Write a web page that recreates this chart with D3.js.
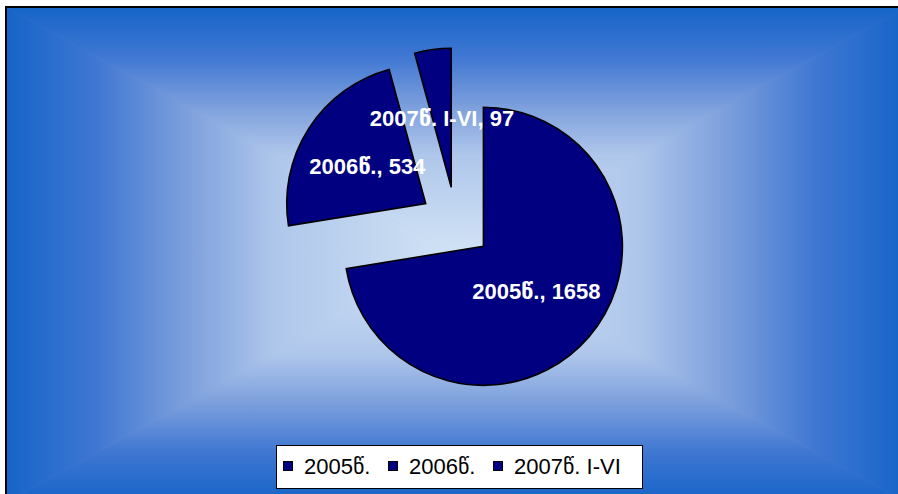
<!DOCTYPE html>
<html>
<head>
<meta charset="utf-8">
<script src="https://cdn.jsdelivr.net/npm/d3@7"></script>
<style>
  html, body { margin: 0; padding: 0; background: #ffffff; }
  svg { display: block; }
</style>
</head>
<body>
<svg id="chart" width="898" height="494"></svg>
<script>
// Data
const categories = ["2005წ.", "2006წ.", "2007წ. I-VI"];
const values = [1658, 534, 97];

const width = 898, height = 494;
const svg = d3.select("#chart");
const defs = svg.append("defs");

// Chart area with a rectangular "from centre" gradient
const area = { x0: 6, y0: 7, x1: 906, y1: 502 };
const cx = (area.x0 + area.x1) / 2, cy = (area.y0 + area.y1) / 2;
const stops = [
  { o: 0, c: "#1564c8" },
  { o: 0.2, c: "#3f77d2" },
  { o: 0.4, c: "#7c9fdc" },
  { o: 0.6, c: "#afc7eb" },
  { o: 1, c: "#d2e3f5" }
];
function makeGrad(id, x1, y1, x2, y2) {
  const g = defs.append("linearGradient").attr("id", id)
    .attr("gradientUnits", "userSpaceOnUse")
    .attr("x1", x1).attr("y1", y1).attr("x2", x2).attr("y2", y2);
  stops.forEach(s => g.append("stop").attr("offset", s.o).attr("stop-color", s.c));
}
makeGrad("gTop", 0, area.y0, 0, cy);
makeGrad("gBottom", 0, area.y1, 0, cy);
makeGrad("gLeft", area.x0, 0, cx, 0);
makeGrad("gRight", area.x1, 0, cx, 0);

const bg = svg.append("g");
bg.append("rect").attr("x", area.x0).attr("y", area.y0)
  .attr("width", area.x1 - area.x0).attr("height", area.y1 - area.y0)
  .attr("fill", "#7c9fdc");
const tri = [
  { id: "gTop", pts: [[area.x0, area.y0], [area.x1, area.y0], [cx, cy]] },
  { id: "gBottom", pts: [[area.x0, area.y1], [area.x1, area.y1], [cx, cy]] },
  { id: "gLeft", pts: [[area.x0, area.y0], [area.x0, area.y1], [cx, cy]] },
  { id: "gRight", pts: [[area.x1, area.y0], [area.x1, area.y1], [cx, cy]] }
];
bg.selectAll("polygon").data(tri).join("polygon")
  .attr("points", d => d.pts.map(p => p.join(",")).join(" "))
  .attr("fill", d => `url(#${d.id})`)
  .attr("stroke", d => `url(#${d.id})`)
  .attr("stroke-width", 0.6);
bg.append("rect").attr("x", area.x0).attr("y", area.y0)
  .attr("width", area.x1 - area.x0).attr("height", area.y1 - area.y0)
  .attr("fill", "none").attr("stroke", "#000").attr("stroke-width", 2);

// Exploded pie
const pieCenter = [456, 223];
const radius = 139;
const explode = 36;

const pie = d3.pie().sort(null).value(d => d.value).startAngle(0).endAngle(2 * Math.PI);
const arcs = pie(categories.map((c, i) => ({ cat: c, value: values[i] })));
const arc = d3.arc().innerRadius(0).outerRadius(radius);

function offset(d) {
  const a = (d.startAngle + d.endAngle) / 2;
  return [Math.sin(a) * explode, -Math.cos(a) * explode];
}

const pieG = svg.append("g").attr("transform", `translate(${pieCenter[0]},${pieCenter[1]})`);
const slices = pieG.selectAll("g.slice").data(arcs).join("g")
  .attr("class", "slice")
  .attr("transform", d => `translate(${offset(d)[0]},${offset(d)[1]})`);
slices.append("path")
  .attr("d", arc)
  .attr("fill", "#000080")
  .attr("stroke", "#000")
  .attr("stroke-width", 1.6)
  .attr("stroke-linejoin", "miter");

// Data labels (category, value)
slices.append("text")
  .attr("transform", d => `translate(${arc.centroid(d)})`)
  .attr("text-anchor", "middle")
  .attr("dy", "0.36em")
  .attr("fill", "#ffffff")
  .attr("font-family", "'Liberation Sans', Arial, 'DejaVu Sans', sans-serif")
  .attr("font-weight", "bold")
  .attr("font-size", 22)
  .text(d => `${d.data.cat}, ${d.data.value}`);

// Legend
const legend = svg.append("g");
legend.append("rect")
  .attr("x", 276.5).attr("y", 445.5).attr("width", 366).attr("height", 43)
  .attr("fill", "#ffffff").attr("stroke", "#000").attr("stroke-width", 1);
const itemX = [283, 388, 493];
const items = legend.selectAll("g.item").data(categories).join("g")
  .attr("class", "item")
  .attr("transform", (d, i) => `translate(${itemX[i]},466)`);
items.append("rect")
  .attr("x", 0.5).attr("y", -4.5).attr("width", 9).attr("height", 9)
  .attr("fill", "#000080").attr("stroke", "#000").attr("stroke-width", 1);
items.append("text")
  .attr("x", 21).attr("dy", "0.36em")
  .attr("fill", "#000")
  .attr("font-family", "'Liberation Sans', Arial, 'DejaVu Sans', sans-serif")
  .attr("font-size", 22)
  .text(d => d);
</script>
</body>
</html>
